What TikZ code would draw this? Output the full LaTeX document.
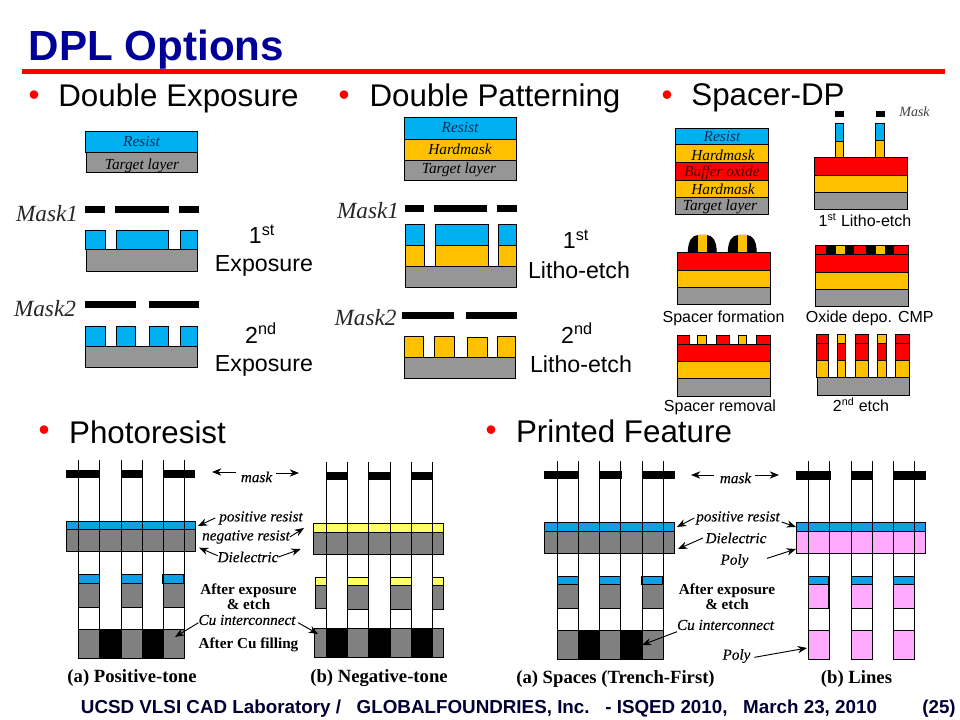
\documentclass[tikz,border=0pt]{standalone}
\usepackage{fontspec}
\setmainfont{Liberation Serif}
\setsansfont{Liberation Sans}
\newfontfamily\notefont[FakeBold=0.3]{Liberation Serif Italic}
\usetikzlibrary{arrows.meta}

\definecolor{resistc}{HTML}{00B0F0}
\definecolor{hardc}{HTML}{FFC000}
\definecolor{targetc}{HTML}{969696}
\definecolor{oxidec}{HTML}{FF0000}
\definecolor{resistl}{HTML}{0F9FE6}
\definecolor{diel}{HTML}{808080}
\definecolor{yellowl}{HTML}{FFFF66}
\definecolor{polyl}{HTML}{FFAAFF}
\definecolor{titlec}{HTML}{000099}
\definecolor{footc}{HTML}{000033}
\definecolor{resisttxt}{HTML}{00305A}
\definecolor{oxidetxt}{HTML}{4A0000}

\tikzset{
 layer/.style={draw=black,line width=.75pt},
 maskbar/.style={fill=black},
 guide/.style={draw=black,line width=.75pt},
 lead/.style={draw=black,line width=.7pt,-{Stealth[length=7pt,width=5.5pt]}},
 every node/.style={inner sep=0pt,outer sep=0pt},
 heading/.style={font=\sffamily\fontsize{23.5}{26}\selectfont},
 bulletmark/.style={text=red,font=\sffamily\fontsize{23.5}{26}\selectfont},
 stepname/.style={font=\sffamily\fontsize{17.4}{20}\selectfont},
 stepsmall/.style={font=\sffamily\fontsize{12}{14}\selectfont},
 masklabel/.style={font=\itshape\fontsize{17.4}{20}\selectfont,text=black!85},
 laytext/.style={font=\itshape\fontsize{11.5}{13}\selectfont},
 note/.style={font=\notefont\fontsize{11.4}{13}\selectfont},
 boldnote/.style={font=\bfseries\fontsize{11.4}{11}\selectfont,align=center},
 panelname/.style={font=\bfseries\fontsize{14}{16}\selectfont}
}

\begin{document}
\begin{tikzpicture}[x=.75pt,y=-.75pt]
\useasboundingbox (0,0) rectangle (960,720);

% title and top headings
\node[text=titlec,font=\sffamily\bfseries\fontsize{31.6}{36}\selectfont] (title) at (156.5,50) {DPL Options};
\fill[red] (22,69) rectangle (945,74.5);
\foreach \bx/\by in {34/98,344/98,667/98,44/433,491/433} {
 \node[bulletmark] at (\bx,\by) {•};
};
\node[heading] (dexp) at (178.5,98) {Double Exposure};
\node[heading] (dpat) at (495,98) {Double Patterning};
\node[heading] (sdp) at (768,98) {Spacer-DP};
\node[heading] (phres) at (147.5,432) {Photoresist};
\node[heading] (prfeat) at (624,431) {Printed Feature};

% double exposure
\foreach \xa/\ya/\xb/\yb/\col in {85/132/197.5/153/resistc, 86.5/153/197.5/173/targetc,
 85/230.5/105/250/resistc, 116.5/230.5/168/250/resistc, 180.5/230.5/197.5/250/resistc, 86.5/250/197.5/271.5/targetc,
 85/326/105/346.5/resistc, 116.5/326/135.5/346.5/resistc, 149.5/326/168.5/346.5/resistc, 180.5/326/197.5/346.5/resistc, 85.5/346.5/197.5/367.5/targetc} {
 \draw[layer,fill=\col] (\xa,\ya) rectangle (\xb,\yb);
};
\foreach \xa/\ya/\xb/\yb in {85/206/105/213, 115/206/169/213, 179/206/199/213, 85/301/136/308, 149/301/199/308} {
 \fill[maskbar] (\xa,\ya) rectangle (\xb,\yb);
};
\node[laytext,text=resisttxt] (deres) at (141.5,142) {Resist};
\node[laytext] (detar) at (142,166) {Target layer};
\node[masklabel] (demaskA) at (47,214) {Mask1};
\node[masklabel] (demaskB) at (45,309) {Mask2};
\node[stepname] (denumA) at (262,234) {1\textsuperscript{st}};
\node[stepname] (denameA) at (264,266) {Exposure};
\node[stepname] (denumB) at (261,333) {2\textsuperscript{nd}};
\node[stepname] (denameB) at (264,366) {Exposure};

% double patterning
\foreach \xa/\ya/\xb/\yb/\col in {404/118/516.5/139.5/resistc, 404/139.5/516.5/160.5/hardc, 404/160.5/516.5/180.5/targetc,
 405/224.3/424.7/245.3/resistc, 435/224.3/488.7/245.3/resistc, 498/224.3/516.7/245.3/resistc,
 405/245.3/424.7/266.3/hardc, 435/245.3/488.7/266.3/hardc, 498/245.3/516.7/266.3/hardc, 405.5/266.3/516.7/287.3/targetc,
 404/336.3/423.7/357/hardc, 434.3/336.3/454.7/357/hardc, 467.3/337/487.7/357/hardc, 497.3/336.3/515.3/357/hardc, 404/357/515.3/378/targetc} {
 \draw[layer,fill=\col] (\xa,\ya) rectangle (\xb,\yb);
};
\foreach \xa/\ya/\xb/\yb in {405/205/424/211.7, 434/205/487/211.7, 497/205/517/211.7, 402/312/454/318.7, 466/312/517/318.7} {
 \fill[maskbar] (\xa,\ya) rectangle (\xb,\yb);
};
\node[laytext,text=resisttxt] (dpres) at (460,128) {Resist};
\node[laytext] (dphard) at (460,149) {Hardmask};
\node[laytext] (dptar) at (459,170) {Target layer};
\node[masklabel] (dpmaskA) at (368,211) {Mask1};
\node[masklabel] (dpmaskB) at (365.5,318) {Mask2};
\node[stepname] (dpnumA) at (576,239) {1\textsuperscript{st}};
\node[stepname] (dpnameA) at (579,270) {Litho-etch};
\node[stepname] (dpnumB) at (577,333) {2\textsuperscript{nd}};
\node[stepname] (dpnameB) at (581,364) {Litho-etch};

% spacer-dp
\foreach \xa/\ya/\xb/\yb/\col in {675.7/128.3/768.3/145/resistc, 675.7/145/768.3/162.3/hardc, 675.7/162.3/768.3/180.7/oxidec, 675.7/180.7/768.3/197.3/hardc, 675.7/197.3/768.3/214.3/targetc,
 835.3/123.3/843.7/141.3/resistc, 835.3/141.3/843.7/157.3/hardc, 875.3/123.3/884.3/140.3/resistc, 875.3/140.3/884.3/157.3/hardc,
 814.3/157.3/907.3/175.3/oxidec, 814.3/175.3/907.3/192.3/hardc, 814.3/192.3/907.3/209.3/targetc,
 677.3/252.3/770.3/270.3/oxidec, 677.3/270.3/770.3/287.3/hardc, 677.3/287.3/770.3/304.3/targetc,
 815.3/245.3/908.3/254.3/oxidec, 815.3/254.3/908.3/272.3/oxidec, 815.3/272.3/908.3/289.3/hardc, 815.3/289.3/908.3/306.3/targetc,
 677.3/335.3/689.7/344.3/oxidec, 697.3/335.3/706.7/344.3/hardc, 716.3/335.3/729.7/344.3/oxidec, 738.3/335.3/746.7/344.3/hardc, 756.3/335.3/770.3/344.3/oxidec,
 677.3/344.3/770.3/361.3/oxidec, 677.3/361.3/770.3/378.3/hardc, 677.3/378.3/770.3/396/targetc,
 816.3/334.3/828.3/343.3/oxidec, 837.3/334.3/845.7/343.3/hardc, 855.3/334.3/868.7/343.3/oxidec, 877.3/334.3/886.3/343.3/hardc, 895.3/334.3/909.3/343.3/oxidec,
 816.3/343.3/828.3/360.3/oxidec, 837.3/343.3/845.7/360.3/oxidec, 855.3/343.3/868.7/360.3/oxidec, 877.3/343.3/886.3/360.3/oxidec, 895.3/343.3/909.3/360.3/oxidec,
 816.3/360.3/828.3/377.3/hardc, 837.3/360.3/845.7/377.3/hardc, 855.3/360.3/868.7/377.3/hardc, 877.3/360.3/886.3/377.3/hardc, 895.3/360.3/909.3/377.3/hardc,
 817.3/377.3/909.3/395.3/targetc} {
 \draw[layer,fill=\col] (\xa,\ya) rectangle (\xb,\yb);
};
\foreach \xa/\ya/\xb/\yb in {835.3/111.3/843.7/116.7, 876.3/111.3/885/116.7} {
 \fill[maskbar] (\xa,\ya) rectangle (\xb,\yb);
};
% spacers on the oxide
\foreach \sx in {687.7,727.7} {
 \fill[black] (\sx,252.3) .. controls ({\sx+.5},241) and ({\sx+4},235) .. ({\sx+10.6},235) -- ({\sx+19},235) .. controls ({\sx+25},235) and ({\sx+29},241) .. ({\sx+29},252.3) -- cycle;
 \fill[hardc] ({\sx+10.6},235) rectangle ({\sx+19},252);
};
\foreach \sx in {826,866} {
 \fill[black] (\sx,246) rectangle ({\sx+28},254);
 \fill[hardc] ({\sx+10},246) rectangle ({\sx+18.5},254);
};
\node[laytext,text=resisttxt] (spres) at (722,137) {Resist};
\node[laytext] (sphardA) at (723,155) {Hardmask};
\node[laytext,text=oxidetxt] (spbuf) at (722,172.5) {Buffer oxide};
\node[laytext] (sphardB) at (723,189) {Hardmask};
\node[laytext] (sptar) at (720,207) {Target layer};
\node[font=\itshape\fontsize{10.5}{12}\selectfont,text=black!75] (spmask) at (914.5,112) {Mask};
\node[stepsmall] (splitho) at (865,220) {1\textsuperscript{st} Litho-etch};
\node[stepsmall] (spform) at (723.5,318.5) {Spacer formation};
\node[stepsmall] (spcmp) at (869.7,318.5) {Oxide depo. CMP};
\node[stepsmall] (spremo) at (720,407.5) {Spacer removal};
\node[stepsmall] (spetch) at (861,405) {2\textsuperscript{nd} etch};

% (a) positive-tone
\foreach \xa/\ya/\xb/\yb/\col in {66.3/521.7/195.7/529.3/resistl, 66.3/529.3/195.7/551.3/diel,
 78.7/574.3/99.3/583.3/resistl, 121.3/574.3/142.3/583.3/resistl, 162.7/574.3/183.7/583.3/resistl,
 78.7/583.3/99.3/607.3/diel, 121.3/583.3/142.3/607.3/diel, 163.3/583.3/184.7/607.3/diel,
 78.7/629.3/99.7/658.3/diel, 99.7/629.3/121.3/658.3/black, 121.3/629.3/142.7/658.3/diel, 142.7/629.3/163.3/658.3/black, 163.3/629.3/184.7/658.3/diel} {
 \draw[layer,fill=\col] (\xa,\ya) rectangle (\xb,\yb);
};
\foreach \xv in {78.7,99.7,121.3,142.7,163.3,184.7} {
 \draw[guide] (\xv,460) -- (\xv,658.3);
};
\foreach \xa/\xb in {66/99.3,121.7/142.7,163.3/195} {
 \fill[maskbar] (\xa,470.3) rectangle (\xb,477.7);
};

% (b) negative-tone
\foreach \xa/\ya/\xb/\yb/\col in {313.3/523.3/443.7/532.3/yellowl, 313.3/532.3/443.7/554.3/diel,
 315.3/577.3/326.3/585.7/yellowl, 347.7/577.3/368.3/585.7/yellowl, 390.3/577.3/411.3/585.7/yellowl, 432.7/577.3/443.7/585.7/yellowl,
 315.3/585.7/326.3/608.7/diel, 347.7/585.7/368.3/609/diel, 390.3/585.7/411.3/609/diel, 432.7/585.7/443.7/609/diel,
 314.3/628.3/326.7/657.3/diel, 326.7/628.3/347.7/657.3/black, 347.7/628.3/368.3/657.3/diel, 368.3/628.3/390.3/657.3/black, 390.3/628.3/411.3/657.3/diel, 411.3/628.3/432.7/657.3/black, 432.7/628.3/443.7/657.3/diel} {
 \draw[layer,fill=\col] (\xa,\ya) rectangle (\xb,\yb);
};
\foreach \xv in {326.7,347.3,368.3,390.3,411.3,432.7} {
 \draw[guide] (\xv,462.3) -- (\xv,657.3);
};
\foreach \xa/\xb in {326.7/347.3,368.3/390.3,411.3/432.7} {
 \fill[maskbar] (\xa,472) rectangle (\xb,479.7);
};

% labels between the photoresist panels
\node[note] (pmask) at (256.5,477) {mask};
\node[note] (pposres) at (261,518) {positive resist};
\node[note] (pnegres) at (246,537) {negative resist};
\node[note] (pdiel) at (248,557) {Dielectric};
\node[boldnote] (pexpo) at (248.5,597) {After exposure\\\& etch};
\node[note] (pcu) at (247,620) {Cu interconnect};
\node[boldnote] (pfill) at (248.5,645) {After Cu filling};
\node[panelname] (ppos) at (132,678.5) {(a) Positive-tone};
\node[panelname] (pneg) at (379,678.5) {(b) Negative-tone};
\coordinate (pmaskL) at (212,472);
\coordinate (pmaskR) at (299,473);
\coordinate (pposT) at (198,526);
\coordinate (pnegT) at (304,528);
\coordinate (pdielL) at (199,547.7);
\coordinate (pdielR) at (300.7,549);
\coordinate (pcuL) at (175,637);
\coordinate (pcuR) at (318,634);
\draw[lead] ([xshift=-3.5pt,yshift=3.75pt]pmask.west) -- (pmaskL);
\draw[lead] ([xshift=3pt,yshift=3pt]pmask.east) -- (pmaskR);
\draw[lead] ([xshift=-3pt]pposres.west) -- (pposT);
\draw[lead] (pnegres.east) -- (pnegT);
\draw[lead] ([yshift=1pt]pdiel.west) -- (pdielL);
\draw[lead] (pdiel.east) -- (pdielR);
\draw[lead] ([yshift=-2pt]pcu.west) -- (pcuL);
\draw[lead] ([xshift=2pt,yshift=-2pt]pcu.east) -- (pcuR);

% (a) spaces
\foreach \xa/\ya/\xb/\yb/\col in {544.3/522.7/674.7/531.7/resistl, 544.3/531.7/674.7/553.3/diel,
 557.3/576.3/578.3/584.3/resistl, 599.7/576.3/620.3/584.3/resistl, 641.3/576.3/662.3/584.3/resistl,
 557.3/584.3/578.3/608.3/diel, 599.7/584.3/620.3/608.3/diel, 642.7/584.3/663.3/608.3/diel,
 557.3/630.3/578.3/659/diel, 578.3/630.3/599.3/659/black, 599.3/630.3/620.7/659/diel, 620.7/630.3/642/659/black, 642/630.3/663.3/659/diel} {
 \draw[layer,fill=\col] (\xa,\ya) rectangle (\xb,\yb);
};
\foreach \xv in {557.3,578.3,599.3,620.7,642,663.3} {
 \draw[guide] (\xv,461) -- (\xv,659);
};
\foreach \xa/\xb in {544/578.3,599.3/621.7,642/674.7} {
 \fill[maskbar] (\xa,471) rectangle (\xb,479.3);
};

% (b) lines
\foreach \xa/\ya/\xb/\yb/\col in {796.3/522.3/925.7/531.3/resistl, 796.3/531.3/925.7/553.3/polyl,
 808.7/576.3/828.3/584.3/resistl, 851/576.3/872.3/584.3/resistl, 893.7/576.3/914.3/584.3/resistl,
 808.7/584.3/828.3/608.3/polyl, 851/584.3/872.3/608.3/polyl, 893.7/584.3/914.3/608.3/polyl,
 808.3/630.3/829.7/659/polyl, 851/630.3/872.7/659/polyl, 893.7/630.3/914.3/659/polyl} {
 \draw[layer,fill=\col] (\xa,\ya) rectangle (\xb,\yb);
};
\foreach \xv in {808.3,829.7,851,872.7,893.7,914.7} {
 \draw[guide] (\xv,461) -- (\xv,659);
};
\foreach \xa/\xb in {796/830.7,851/872.7,893.3/926} {
 \fill[maskbar] (\xa,471) rectangle (\xb,479.7);
};

% labels between the feature panels
\node[note] (fmask) at (735.5,478) {mask};
\node[note] (fposres) at (738,518) {positive resist};
\node[note] (fdiel) at (736,538) {Dielectric};
\node[note] (fpolyA) at (734.5,561) {Poly};
\node[boldnote] (fexpo) at (727,597) {After exposure\\\& etch};
\node[note] (fcu) at (725.5,625) {Cu interconnect};
\node[note] (fpolyB) at (736.5,656) {Poly};
\node[panelname] (fspace) at (615.5,679.5) {(a) Spaces (Trench-First)};
\node[panelname] (flines) at (856.5,679.5) {(b) Lines};
\coordinate (fmaskL) at (691,475);
\coordinate (fmaskR) at (779,475);
\coordinate (fposL) at (677,527);
\coordinate (fposR) at (796,527);
\coordinate (fdielT) at (678,549);
\coordinate (fpolyAT) at (796,549);
\coordinate (fcuT) at (642,645);
\coordinate (fpolyBT) at (807,648);
\draw[lead] ([xshift=-4.5pt,yshift=2.25pt]fmask.west) -- (fmaskL);
\draw[lead] ([xshift=3pt,yshift=2.25pt]fmask.east) -- (fmaskR);
\draw[lead] ([xshift=-1.5pt]fposres.west) -- (fposL);
\draw[lead] ([xshift=1.5pt,yshift=-3pt]fposres.east) -- (fposR);
\draw[lead] ([xshift=-2pt]fdiel.west) -- (fdielT);
\draw[lead] ([xshift=14pt,yshift=2pt]fpolyA.east) -- (fpolyAT);
\draw[lead] ([yshift=-5pt]fcu.west) -- (fcuT);
\draw[lead] ([xshift=3pt,yshift=-1pt]fpolyB.east) -- (fpolyBT);

% footer
\node[text=footc,font=\sffamily\bfseries\fontsize{14.1}{16}\selectfont] (foot) at (479,709) {UCSD VLSI CAD Laboratory /\ \ \ GLOBALFOUNDRIES, Inc.\ \ \ - ISQED 2010,\ \ \ March 23, 2010};
\node[text=footc,font=\sffamily\bfseries\fontsize{14}{16}\selectfont] (pageno) at (939,709) {(25)};

\end{tikzpicture}
\end{document}
